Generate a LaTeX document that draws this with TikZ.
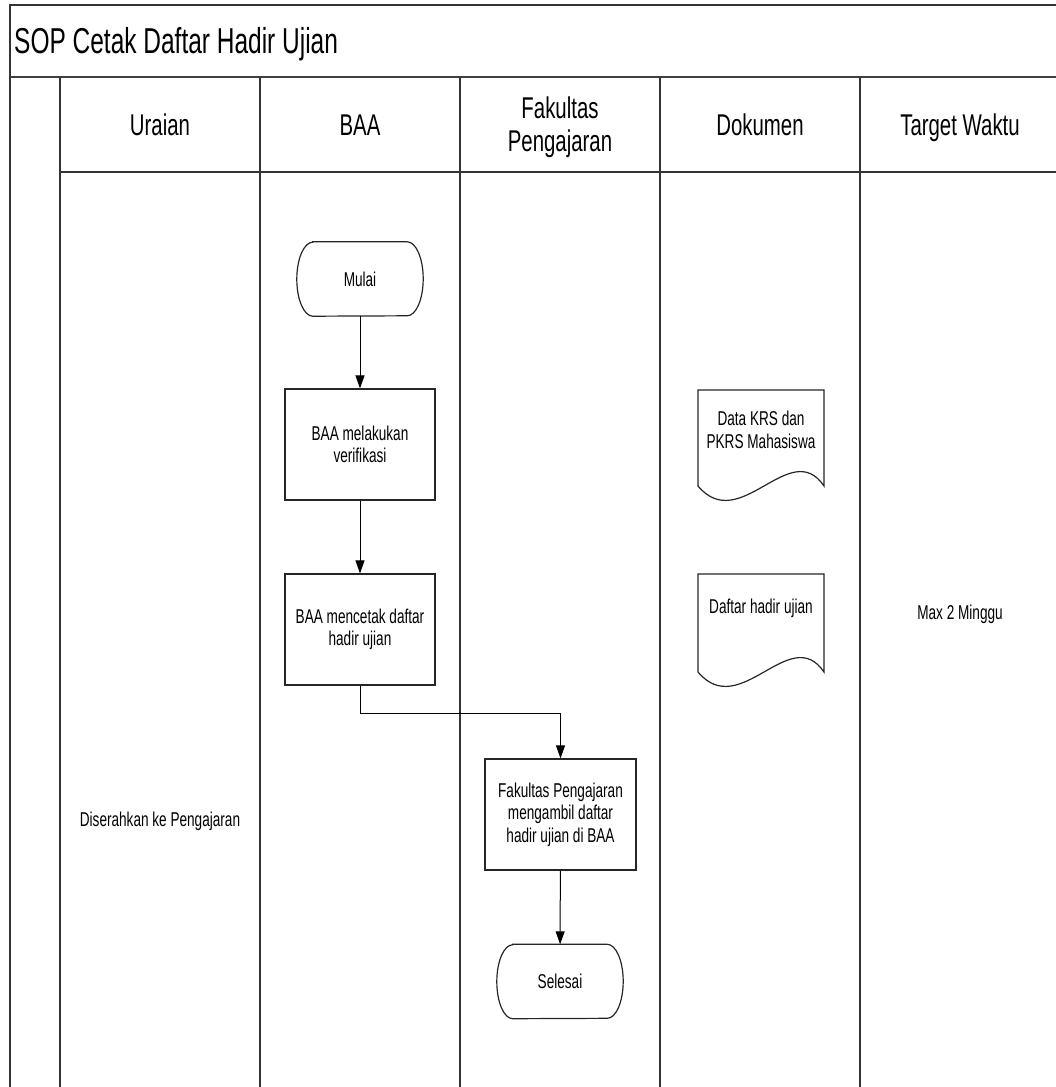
\documentclass[tikz,border=0pt]{standalone}
\usepackage{fontspec}
\setmainfont{Liberation Sans}[FakeStretch=0.68]
\usetikzlibrary{arrows.meta}

% outline of a terminal (start/end) symbol around a named node
\newcommand\termoutline[1]{%
  \draw[outline] ([xshift=16pt]#1.north west) -- ([xshift=-16pt]#1.north east)
    arc[start angle=90,end angle=-90,x radius=16pt,y radius=37pt]
    -- ([xshift=16pt]#1.south west)
    arc[start angle=270,end angle=90,x radius=16pt,y radius=37pt] -- cycle;}

\begin{document}
\begin{tikzpicture}[x=1pt,y=-1pt,
  frame/.style={line width=1.4pt, draw=black!80},
  sep/.style={line width=2.4pt, draw=black!75},
  titletext/.style={font=\fontsize{36}{40}\selectfont, anchor=base west, inner sep=0pt},
  head/.style={font=\fontsize{30}{33}\selectfont, align=center, inner sep=0pt},
  body/.style={font=\fontsize{20}{22.5}\selectfont, align=center, inner sep=0pt},
  process/.style={body, draw=black!85, line width=1.2pt, minimum width=150pt, minimum height=111pt},
  termbox/.style={body, minimum width=126pt, minimum height=74pt},
  outline/.style={draw=black!85, line width=1.2pt},
  flow/.style={line width=1pt, draw=black, -{Triangle[length=13pt,width=9pt]}},
]
\useasboundingbox (0,0) rectangle (1056,1087);

% frame and swimlanes
\draw[frame] (10,1087) -- (10,5) -- (1056,5);
\draw[sep] (10,77) -- (1056,77);
\draw[frame] (60,77) -- (60,1087);
\draw[frame] (60,172) -- (1056,172);
\foreach \lx in {260,460,660,860}
  \draw[frame] (\lx,77) -- (\lx,1087);

% title and column headings
\node[titletext] (title) at (14,53) {SOP Cetak Daftar Hadir Ujian};
\node[head, anchor=base] (hUraian) at (160,135) {Uraian};
\node[head, anchor=base] (hBAA) at (360,135) {BAA};
\node[head] (hFak) at (560,127) {Fakultas\\Pengajaran};
\node[head, anchor=base] (hDok) at (760,135) {Dokumen};
\node[head, anchor=base] (hTarget) at (960,135) {Target Waktu};

% flow steps
\node[termbox] (mulai) at (360,279) {Mulai};
\termoutline{mulai}
\node[process] (verif) at (360,444.5) {BAA melakukan\\verifikasi};
\node[process] (cetak) at (360,629.5) {BAA mencetak daftar\\hadir ujian};
\node[process, minimum width=151pt] (ambil) at (560.5,814.5) {Fakultas Pengajaran\\mengambil daftar\\hadir ujian di BAA};
\node[termbox] (selesai) at (560,981.5) {Selesai};
\termoutline{selesai}

% connectors
\draw[flow] (mulai) -- (verif);
\draw[flow] (verif) -- (cetak);
\draw[flow] (cetak.south) -- ++(0,28) -| (ambil.north);
\draw[flow] (ambil) -- (selesai);

% documents
\node[body] (krs) at (761,430) {Data KRS dan\\PKRS Mahasiswa};
\draw[outline] (698,390) -- (824,390) -- (824,486)
  .. controls (790,436) and (740,536) .. (698,486) -- cycle;
\node[body, anchor=base] (dh) at (761,613) {Daftar hadir ujian};
\draw[outline] (698,574) -- (824,574) -- (824,672)
  .. controls (790,622) and (740,722) .. (698,672) -- cycle;

% description and time target
\node[body, anchor=base] (urai) at (160,826) {Diserahkan ke Pengajaran};
\node[body, anchor=base] (target) at (960,619) {Max 2 Minggu};
\end{tikzpicture}
\end{document}
